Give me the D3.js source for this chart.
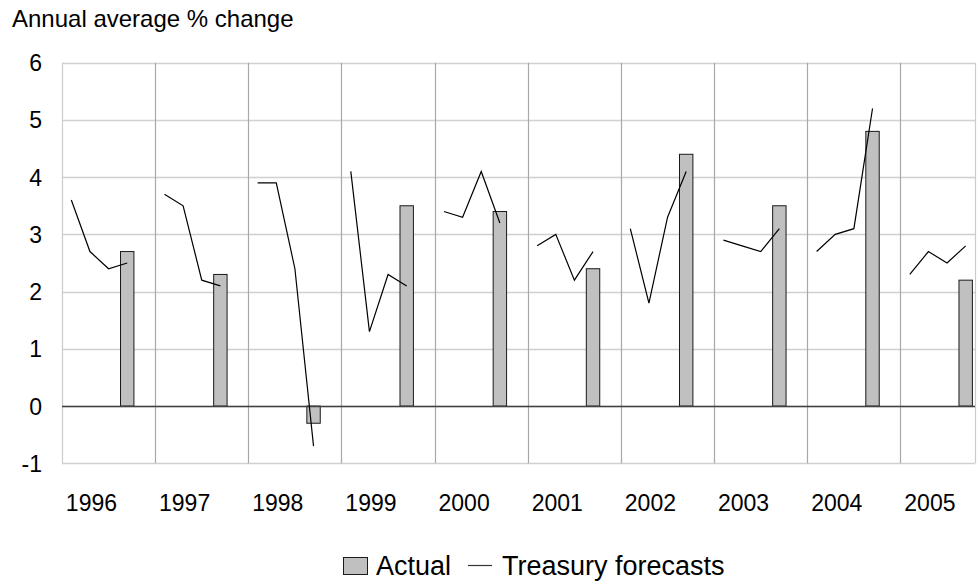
<!DOCTYPE html>
<html>
<head>
<meta charset="utf-8">
<script src="https://cdn.jsdelivr.net/npm/d3@7"></script>
<style>
  html, body { margin: 0; padding: 0; background: #fff; }
  svg { display: block; font-family: "Liberation Sans", Arial, sans-serif; }
</style>
</head>
<body>
<svg id="chart" width="977" height="582"></svg>
<script>
// ---- data ----
const years = ["1996", "1997", "1998", "1999", "2000", "2001", "2002", "2003", "2004", "2005"];
const actual = [2.7, 2.3, -0.3, 3.5, 3.4, 2.4, 4.4, 3.5, 4.8, 2.2];
const forecasts = [
  [3.6, 2.7, 2.4, 2.5],
  [3.7, 3.5, 2.2, 2.1],
  [3.9, 3.9, 2.4, -0.7],
  [4.1, 1.3, 2.3, 2.1],
  [3.4, 3.3, 4.1, 3.2],
  [2.8, 3.0, 2.2, 2.7],
  [3.1, 1.8, 3.3, 4.1],
  [2.9, 2.8, 2.7, 3.1],
  [2.7, 3.0, 3.1, 5.2],
  [2.3, 2.7, 2.5, 2.8]
];
const yTicks = [-1, 0, 1, 2, 3, 4, 5, 6];
const slotsPerYear = 5;
const totalSlots = 49;

// ---- layout ----
const svg = d3.select("#chart");
const pLeft = 62, pRight = 975, pTop = 62.7, pBottom = 463.3;

const x = d3.scaleLinear().domain([0, totalSlots]).range([pLeft, pRight]);
const y = d3.scaleLinear().domain([-1, 6]).range([pBottom, pTop]);
const slotW = x(1) - x(0);

// title
svg.append("text").attr("x", 12).attr("y", 27)
  .attr("font-size", 24).attr("fill", "#000").text("Annual average % change");

// horizontal gridlines
svg.append("g").selectAll("line").data(yTicks).join("line")
  .attr("x1", pLeft).attr("x2", pRight)
  .attr("y1", d => Math.round(y(d)) + 0.5).attr("y2", d => Math.round(y(d)) + 0.5)
  .attr("stroke", "#d0d0d0").attr("stroke-width", 1.3);

// vertical gridlines
const vlines = d3.range(0, 10).map(k => k * slotsPerYear).concat([totalSlots]);
svg.append("g").selectAll("line").data(vlines).join("line")
  .attr("x1", d => Math.round(x(d)) + 0.5).attr("x2", d => Math.round(x(d)) + 0.5)
  .attr("y1", pTop).attr("y2", pBottom)
  .attr("stroke", d => (d === 0 || d === totalSlots) ? "#cccccc" : "#a8a8a8")
  .attr("stroke-width", 1.2);

// y tick labels
svg.append("g").selectAll("text").data(yTicks).join("text")
  .attr("x", 42).attr("y", d => y(d) + 8.5)
  .attr("text-anchor", "end").attr("font-size", 23).attr("fill", "#000")
  .text(d => d);

// year labels
svg.append("g").selectAll("text").data(years).join("text")
  .attr("x", (d, i) => x(i * slotsPerYear + 1.5) + 1.5).attr("y", 511)
  .attr("text-anchor", "middle").attr("font-size", 23).attr("fill", "#000")
  .text(d => d);

// bars
const barW = slotW * 0.72;
svg.append("g").selectAll("rect").data(actual).join("rect")
  .attr("x", (d, i) => x(i * slotsPerYear + 3.5) - barW / 2)
  .attr("width", barW)
  .attr("y", d => y(Math.max(0, d)))
  .attr("height", d => Math.abs(y(d) - y(0)))
  .attr("fill", "#c0c0c0").attr("stroke", "#1a1a1a").attr("stroke-width", 1);

// zero line
svg.append("line")
  .attr("x1", pLeft).attr("x2", pRight)
  .attr("y1", Math.round(y(0)) + 0.5).attr("y2", Math.round(y(0)) + 0.5)
  .attr("stroke", "#404040").attr("stroke-width", 1.3);

// forecast lines (one segment per year)
const line = d3.line().x(d => d[0]).y(d => d[1]);
svg.append("g").selectAll("path").data(forecasts).join("path")
  .attr("d", (vals, i) => line(vals.map((v, j) => [x(i * slotsPerYear + j + 0.5), y(v)])))
  .attr("fill", "none").attr("stroke", "#000").attr("stroke-width", 1.2);

// legend
const lg = svg.append("g");
lg.append("rect").attr("x", 343.5).attr("y", 557.5).attr("width", 24).attr("height", 17)
  .attr("fill", "#c0c0c0").attr("stroke", "#1a1a1a").attr("stroke-width", 1);
lg.append("text").attr("x", 376).attr("y", 575).attr("font-size", 27).attr("fill", "#000").text("Actual");
lg.append("line").attr("x1", 468).attr("x2", 492).attr("y1", 565.5).attr("y2", 565.5)
  .attr("stroke", "#333").attr("stroke-width", 1.2);
lg.append("text").attr("x", 502).attr("y", 575).attr("font-size", 27).attr("fill", "#000").text("Treasury forecasts");
</script>
</body>
</html>
